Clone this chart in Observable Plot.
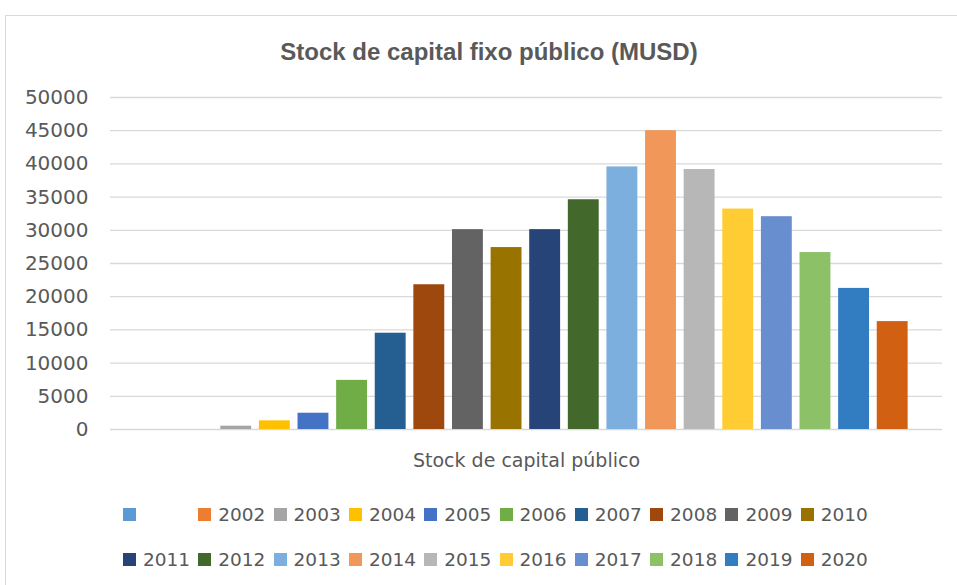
<!DOCTYPE html>
<html><head><meta charset="utf-8">
<script src="https://cdn.jsdelivr.net/npm/d3@7"></script>
<script src="https://cdn.jsdelivr.net/npm/@observablehq/plot@0.6"></script>
<style>
body{margin:0;background:#fff;width:957px;height:585px;overflow:hidden;position:relative;font-family:"DejaVu Sans",sans-serif;}
#frame{position:absolute;left:5px;top:15px;width:1000px;height:600px;border:1.5px solid #d9d9d9;box-sizing:border-box;}
#title{position:absolute;left:0;width:978px;top:40px;line-height:24px;text-align:center;font-family:"Liberation Sans",Arial,sans-serif;font-weight:bold;font-size:24px;color:#595959;}
#chart{position:absolute;left:0;top:80px;}
.li{position:absolute;height:20px;display:flex;align-items:center;font-size:18.5px;color:#595959;white-space:nowrap;}
.sw{width:13px;height:13px;margin-right:7px;flex:none;}
</style></head>
<body>
<div id="frame"></div>
<div id="title">Stock de capital fixo público (MUSD)</div>
<div id="chart"></div>
<div id="legend"></div>
<script>
const series = ["", "2002","2003","2004","2005","2006","2007","2008","2009","2010","2011","2012","2013","2014","2015","2016","2017","2018","2019","2020"];
const values = [0, 0, 500, 1300, 2450, 7400, 14500, 21800, 30100, 27400, 30100, 34600, 39550, 45000, 39150, 33200, 32050, 26650, 21250, 16250];
const colors = ["#5B9BD5","#ED7D31","#A5A5A5","#FFC000","#4472C4","#70AD47","#255E91","#9E480E","#636363","#997300","#264478","#43682B","#7CAFDD","#F1975A","#B7B7B7","#FFCD33","#698ED0","#8CC168","#327DC2","#D26012"];
const yTicks = [0,5000,10000,15000,20000,25000,30000,35000,40000,45000,50000];
const xLabel = "Stock de capital público";

const data = series.map((s,i)=>({s, v: values[i]}));

const chart = Plot.plot({
  width: 957, height: 400,
  marginLeft: 110, marginRight: 15, marginTop: 17, marginBottom: 51,
  style: {fontFamily: "DejaVu Sans, sans-serif", fontSize: "20px", color: "#595959", background: "transparent"},
  x: {domain: series, round: false, paddingInner: 0.2, paddingOuter: 0.1, insetLeft: 29.2, insetRight: 30.5, axis: null},
  y: {domain: [0, 50000], ticks: yTicks, tickSize: 0, tickPadding: 22, label: null, tickFormat: d => String(d)},
  color: {domain: series, range: colors},
  marks: [
    Plot.gridY(yTicks, {stroke: "#d9d9d9", strokeOpacity: 1, strokeWidth: 1.3}),
    Plot.axisY(yTicks, {tickSize: 0, tickPadding: 22, label: null, tickFormat: d => String(d), fill: "#595959", fontSize: 20}),
    Plot.barY(data, {x: "s", y: "v", fill: "s"}),
    Plot.text([xLabel], {frameAnchor: "bottom", dy: 37, fontSize: 19, fill: "#595959"})
  ]
});
document.getElementById("chart").appendChild(chart);

const legend = document.getElementById("legend");
series.forEach((s,i)=>{
  const row = Math.floor(i/10), col = i%10;
  const d = document.createElement("div");
  d.className = "li";
  d.style.left = (123 + col*75.3) + "px";
  d.style.top = (row === 0 ? 504 : 549) + "px";
  d.innerHTML = `<span class="sw" style="background:${colors[i]}"></span><span>${s}</span>`;
  legend.appendChild(d);
});
</script>
</body></html>
